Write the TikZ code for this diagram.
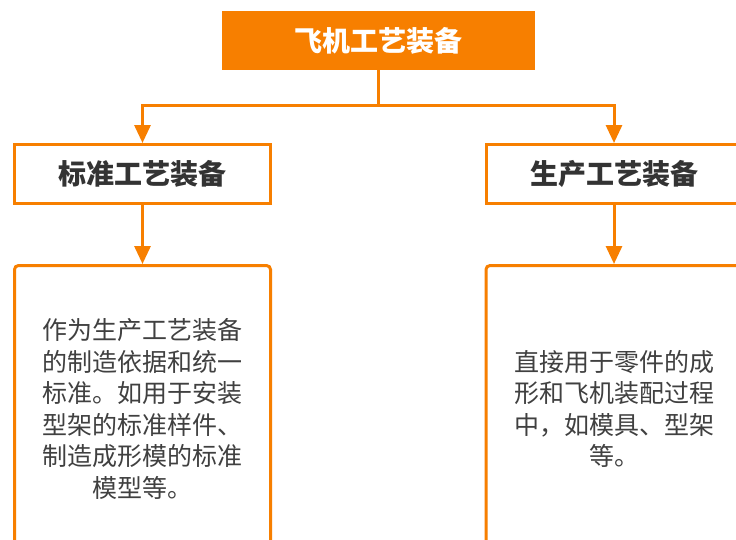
\documentclass[tikz,border=0pt]{standalone}
\usepackage{fontspec}
\newfontfamily\cjk{Noto Sans CJK SC}
\usetikzlibrary{arrows.meta}
\definecolor{org}{HTML}{F77F00}
\definecolor{txt}{HTML}{333333}
\definecolor{body}{HTML}{404040}
\tikzset{
  conn/.style={draw=org, line width=3pt, -{Triangle[width=16pt,length=18pt]}},
  topbox/.style={fill=org, draw=none, minimum width=313pt, minimum height=59pt, inner sep=0pt,
    text=white, font=\cjk\bfseries\fontsize{28}{32}\selectfont},
  midbox/.style={draw=org, line width=3pt, fill=white, minimum width=256pt, minimum height=59pt, inner sep=0pt,
    text=txt, font=\cjk\bfseries\fontsize{28}{32}\selectfont},
  lowbox/.style={draw=org, line width=3pt, fill=white, rounded corners=4pt, minimum width=256pt, minimum height=287pt, inner sep=0pt},
  bodytext/.style={text=body, align=center, inner sep=0pt, font=\cjk\fontsize{25}{31.6}\selectfont}
}
\begin{document}
\begin{tikzpicture}[x=1pt,y=-1pt]
\clip (0,0) rectangle (736,539);
\fill[white] (0,0) rectangle (736,539);
\node[topbox] (top) at (378.5,40.5) {飞机工艺装备};
\node[midbox] (lm) at (142.5,174) {标准工艺装备};
\node[midbox] (rm) at (614,174) {生产工艺装备};
\node[lowbox] (lb) at (142.5,409) {};
\node[lowbox] (rb) at (614,409) {};
\node[bodytext] (lt) at (142.5,409) {作为生产工艺装备\\的制造依据和统一\\标准。如用于安装\\型架的标准样件、\\制造成形模的标准\\模型等。};
\node[bodytext] (rt) at (614,409) {直接用于零件的成\\形和飞机装配过程\\中，如模具、型架\\等。};
\draw[conn] (top.south) -- ++(0,35) -| (lm.north);
\draw[conn] (top.south) -- ++(0,35) -| (rm.north);
\draw[conn] (lm.south) -- (lb.north);
\draw[conn] (rm.south) -- (rb.north);
\end{tikzpicture}
\end{document}
